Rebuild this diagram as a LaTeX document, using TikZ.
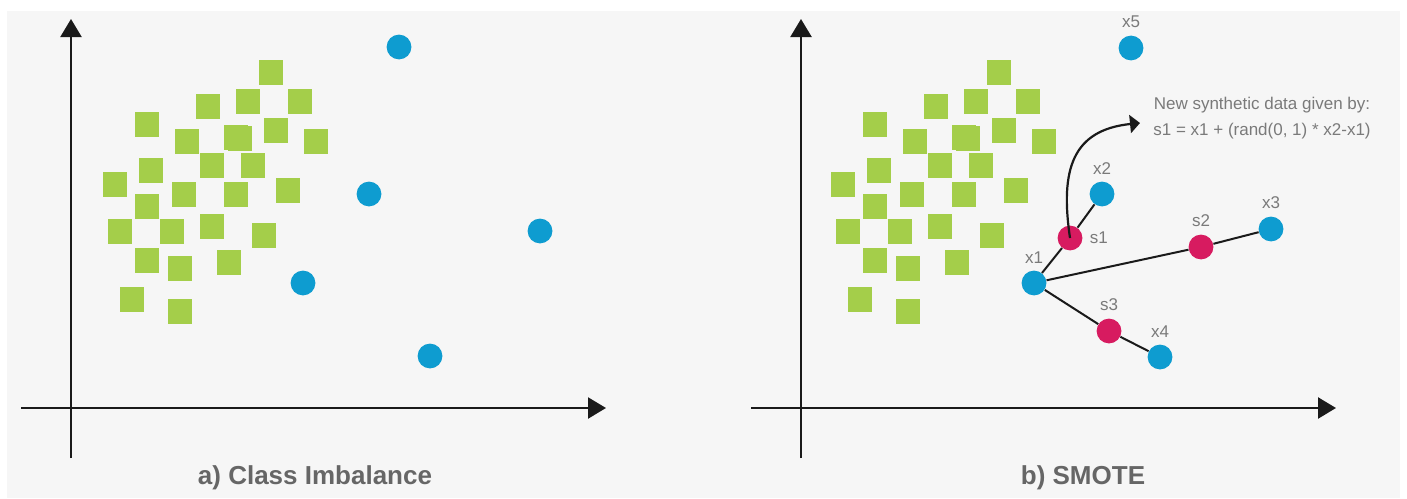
\documentclass[tikz,border=0pt]{standalone}
\usepackage{fontspec}
\setmainfont{Liberation Sans}
\usetikzlibrary{arrows.meta}
\definecolor{panelBg}{RGB}{246,246,246}
\definecolor{axisInk}{RGB}{26,26,26}
\definecolor{majGreen}{RGB}{164,206,74}
\definecolor{minBlue}{RGB}{14,156,208}
\definecolor{synthPink}{RGB}{215,27,96}
\definecolor{labelGray}{RGB}{122,122,122}
\definecolor{titleGray}{RGB}{102,102,102}

\begin{document}
\begin{tikzpicture}[x=0.5pt, y=-0.5pt,
  sq/.style={fill=majGreen, minimum width=12pt, minimum height=12.5pt, inner sep=0pt},
  dot/.style={circle, fill=minBlue, minimum size=12.4pt, inner sep=0pt},
  syn/.style={circle, fill=synthPink, minimum size=12.4pt, inner sep=0pt},
  tag/.style={font=\fontsize{8.5}{10}\selectfont, text=labelGray},
  note/.style={font=\fontsize{8.5}{13.35}\selectfont, text=labelGray, align=center},
  ttl/.style={font=\bfseries\fontsize{13}{15}\selectfont, text=titleGray},
  ax/.style={-{Triangle[length=9pt,width=10.5pt]}, line width=1.15pt, draw=axisInk},
  seg/.style={line width=1pt, draw=axisInk},
  arr/.style={-{Triangle[length=5pt,width=9pt]}, line width=1.1pt, draw=axisInk}
]
\useasboundingbox (0,0) rectangle (1407,498);
\fill[white] (0,0) rectangle (1407,498);
\fill[panelBg] (7,11) rectangle (1400,498);

% axes
\coordinate (aTop) at (71,19);
\coordinate (aBot) at (71,458);
\coordinate (aLeft) at (21,408);
\coordinate (aRight) at (606,408);
\coordinate (bTop) at (801,19);
\coordinate (bBot) at (801,458);
\coordinate (bLeft) at (751,408);
\coordinate (bRight) at (1336,408);
\draw[ax] (aBot) -- (aTop);
\draw[ax] (aLeft) -- (aRight);
\draw[ax] (bBot) -- (bTop);
\draw[ax] (bLeft) -- (bRight);

% majority class, same in both panels
\foreach \x/\y [count=\i] in {271/72, 208/106.5, 248/101, 300/101, 147/124, 187/141,
    236/137, 240/138, 276/130, 316/141, 151/170, 212/165, 253/165, 115/184,
    184/194, 236/194, 288/190, 147/206, 120/231, 172/231, 212/226, 264/235,
    147/260, 180/268, 229/262, 132/299, 180/311}{
  \node[sq] (sqa\i) at (\x,\y) {};
  \node[sq] (sqb\i) at (\x+728,\y) {};
}

% minority class, left panel
\node[dot] (ca1) at (399,47) {};
\node[dot] (ca2) at (369,194) {};
\node[dot] (ca3) at (540,231) {};
\node[dot] (ca4) at (303,283) {};
\node[dot] (ca5) at (430,356) {};

% smote panel
\node[dot, label={[tag]above:x1}] (x1) at (1034,283) {};
\node[dot, label={[tag]above:x2}] (x2) at (1102,194) {};
\node[dot, label={[tag]above:x3}] (x3) at (1271,229) {};
\node[dot, label={[tag]above:x4}] (x4) at (1160,357) {};
\node[dot, label={[tag]above:x5}] (x5) at (1131,48) {};
\node[syn, label={[tag]right:s1}] (s1) at (1070,238) {};
\node[syn, label={[tag]above:s2}] (s2) at (1201,247) {};
\node[syn, label={[tag]above:s3}] (s3) at (1109,331) {};
\draw[seg] (x1) -- (s1);
\draw[seg] (s1) -- (x2);
\draw[seg] (x1) -- (s2);
\draw[seg] (s2) -- (x3);
\draw[seg] (x1) -- (s3);
\draw[seg] (s3) -- (x4);

\node[note] (formula) at (1262,118) {New synthetic data given by:\\s1 = x1 + (rand(0, 1) * x2-x1)};
\coordinate (arrEnd) at (1140,123);
\draw[arr] (s1.center) .. controls (1060,170) and (1072,130) .. (arrEnd);

\node[ttl] (titleA) at (315,478) {a) Class Imbalance};
\node[ttl] (titleB) at (1083,478) {b) SMOTE};
\end{tikzpicture}
\end{document}
